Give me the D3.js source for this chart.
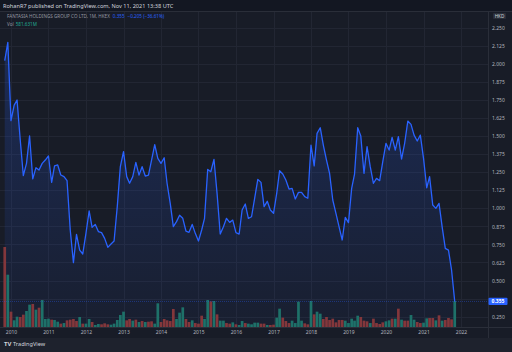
<!DOCTYPE html>
<html><head><meta charset="utf-8">
<script src="https://cdn.jsdelivr.net/npm/d3@7"></script>
<style>html,body{margin:0;padding:0;background:#131722;overflow:hidden}svg{display:block}</style>
</head><body>
<script>
// Monthly closes, Nov 2009 .. Nov 2021 (HKD)
const closes = [2.024,2.151,1.608,1.716,1.751,1.474,1.227,1.312,1.502,1.204,1.282,1.266,1.312,1.335,1.363,1.180,1.294,1.301,1.231,1.220,1.192,0.850,0.624,0.820,0.711,0.684,0.827,0.982,0.869,0.889,0.839,0.832,0.792,0.730,0.753,0.774,1.012,1.289,1.393,1.220,1.174,1.220,1.319,1.231,1.289,1.224,1.231,1.335,1.441,1.347,1.312,1.351,1.174,1.035,0.873,0.908,0.952,0.931,0.843,0.834,0.889,0.827,0.774,0.850,0.931,1.270,1.254,1.340,1.104,0.822,0.873,0.931,0.903,0.919,0.832,0.822,0.989,1.030,0.931,0.942,1.070,1.201,1.180,1.012,1.049,0.989,0.966,1.104,1.261,1.238,1.197,1.134,1.139,1.065,1.111,1.111,1.081,1.070,1.439,1.294,1.520,1.559,1.439,1.335,1.243,1.058,0.966,0.873,0.781,0.938,0.901,1.139,1.238,1.559,1.502,1.243,1.428,1.289,1.174,1.208,1.192,1.324,1.451,1.404,1.492,1.404,1.497,1.342,1.451,1.605,1.582,1.508,1.467,1.508,1.347,1.143,1.220,1.023,1.000,1.035,0.873,0.723,0.711,0.573,0.355];
// Monthly volume (millions of shares)
const volumes = [1790,1170,343,150,231,224,276,358,500,515,388,432,604,179,186,164,157,119,75,89,149,164,179,134,224,75,75,179,112,45,67,60,82,60,52,75,157,268,343,149,179,142,164,112,134,112,119,127,75,530,112,179,149,134,403,179,321,440,179,112,149,89,75,253,179,604,574,582,283,142,142,89,75,104,60,45,134,89,75,60,97,97,75,75,45,45,52,209,410,209,134,89,142,89,567,142,82,60,582,283,343,298,179,224,157,186,104,157,157,142,89,186,142,253,224,142,127,89,186,89,67,104,127,149,186,186,410,164,142,142,268,164,112,89,97,194,201,201,149,261,142,157,201,171,581.631];
// Volume bar direction: 1 = up (green), 0 = down (red)
const volUp = [0,1,0,1,1,0,0,1,1,0,1,0,1,1,1,0,1,1,0,1,0,0,0,0,1,0,1,1,0,1,1,0,0,0,1,1,1,1,1,0,0,1,0,1,0,1,0,0,1,1,0,0,0,0,0,1,1,1,0,0,1,0,0,0,1,1,0,1,0,1,1,0,0,1,0,1,1,0,1,1,1,1,0,0,1,0,0,1,1,0,0,0,1,1,1,1,0,0,1,0,1,1,0,0,0,0,0,0,0,1,1,1,1,1,0,0,0,1,0,0,0,0,1,1,0,1,0,1,0,0,1,1,0,0,1,1,0,0,1,0,1,0,0,0,1];
const priceTicks = [2.25,2.125,2.0,1.875,1.75,1.625,1.5,1.375,1.25,1.125,1.0,0.875,0.75,0.625,0.5,0.375,0.25];
const hiddenTick = 0.375; // covered by the last-price marker
const yearTicks = [2010,2011,2012,2013,2014,2015,2016,2017,2018,2019,2020,2021,2022];
const startMonth = [2009, 10]; // Nov 2009 (0-based month)
const titleText = "RohanR7 published on TradingView.com, Nov 11, 2021 13:38 UTC";
const symbolText = "FANTASIA HOLDINGS GROUP CO LTD, 1M, HKEX";
const lastText = "0.355";
const changeText = "\u22120.205 (\u221236.61%)";
const volLabel = "Vol";
const volValueText = "581.631M";
const currency = "HKD";

const W = 512, H = 352;
const plotL = 0, plotR = 488, plotT = 12, plotB = 327;
const FONT = "'Noto Sans', 'DejaVu Sans', sans-serif";

const data = closes.map((c, i) => ({
  date: new Date(Date.UTC(startMonth[0], startMonth[1] + i, 1)),
  close: c, vol: volumes[i], up: volUp[i]
}));

const x = d3.scaleUtc().domain([new Date(Date.UTC(2010,0,1)), new Date(Date.UTC(2022,0,1))]).range([11, 461]);
const y = d3.scaleLinear().domain([0.25, 2.25]).range([316.6, 28]);
const yv = d3.scaleLinear().domain([0, 2000]).range([plotB, plotB - 89.4]);

const svg = d3.select("body").append("svg").attr("width", W).attr("height", H)
  .style("font-family", FONT);

svg.append("rect").attr("width", W).attr("height", H).attr("fill", "#131722");
svg.append("rect").attr("x", plotL).attr("y", plotT).attr("width", plotR - plotL).attr("height", plotB - plotT).attr("fill", "#181c27");
svg.append("rect").attr("x", plotR).attr("y", plotT).attr("width", W - plotR).attr("height", plotB - plotT).attr("fill", "#181c27");
svg.append("rect").attr("x", 0).attr("y", plotB).attr("width", W).attr("height", 11).attr("fill", "#181c27");
svg.append("rect").attr("x", 0).attr("y", 338).attr("width", W).attr("height", 14).attr("fill", "#1e222d");

// grid
const grid = svg.append("g");
grid.selectAll("line.h").data(priceTicks).join("line")
  .attr("x1", plotL).attr("x2", plotR).attr("y1", d => Math.round(y(d)) + 0.5).attr("y2", d => Math.round(y(d)) + 0.5)
  .attr("stroke", "#222633").attr("stroke-width", 1);
grid.selectAll("line.v").data(yearTicks).join("line")
  .attr("x1", d => Math.round(x(new Date(Date.UTC(d,0,1)))) + 0.5).attr("x2", d => Math.round(x(new Date(Date.UTC(d,0,1)))) + 0.5)
  .attr("y1", plotT).attr("y2", plotB)
  .attr("stroke", "#222633").attr("stroke-width", 1);

// area gradient
const defs = svg.append("defs");
const grad = defs.append("linearGradient").attr("id", "ag").attr("x1", 0).attr("y1", 0).attr("x2", 0).attr("y2", 1);
grad.append("stop").attr("offset", "0%").attr("stop-color", "#2962ff").attr("stop-opacity", 0.22);
grad.append("stop").attr("offset", "100%").attr("stop-color", "#2962ff").attr("stop-opacity", 0.04);

const area = d3.area().x(d => x(d.date)).y0(plotB).y1(d => y(d.close));
svg.append("path").datum(data).attr("d", area).attr("fill", "url(#ag)");

// volume bars
svg.append("g").selectAll("rect").data(data).join("rect")
  .attr("x", d => x(d.date) - 1.35).attr("width", 2.7)
  .attr("y", d => yv(d.vol)).attr("height", d => plotB - yv(d.vol))
  .attr("fill", d => d.up ? "#1e7169" : "#83373b");

// price line
const line = d3.line().x(d => x(d.date)).y(d => y(d.close));
svg.append("path").datum(data).attr("d", line).attr("fill", "none")
  .attr("stroke", "#2962ff").attr("stroke-width", 1.3).attr("stroke-linejoin", "round");

// last price horizontal line
const lastY = y(closes[closes.length - 1]);
svg.append("line").attr("x1", plotL).attr("x2", plotR).attr("y1", lastY).attr("y2", lastY)
  .attr("stroke", "#2962ff").attr("stroke-opacity", 0.45).attr("stroke-width", 0.8).attr("stroke-dasharray", "1,1");

// panel borders
svg.append("line").attr("x1", plotR + 0.5).attr("x2", plotR + 0.5).attr("y1", plotT).attr("y2", 338).attr("stroke", "#2a2e39");
svg.append("line").attr("x1", 0).attr("x2", W).attr("y1", plotB + 0.5).attr("y2", plotB + 0.5).attr("stroke", "#2a2e39");
svg.append("line").attr("x1", 0).attr("x2", W).attr("y1", plotT - 0.5).attr("y2", plotT - 0.5).attr("stroke", "#2a2e39");

// right axis labels
const yAxis = d3.axisRight(y).tickValues(priceTicks.filter(t => t !== hiddenTick)).tickFormat(d3.format(".3f")).tickSize(0).tickPadding(0);
const ya = svg.append("g").attr("transform", `translate(${plotR + 4},0)`).call(yAxis);
ya.select(".domain").remove();
ya.selectAll("text").attr("fill", "#b2b5be").attr("font-size", 5).attr("font-family", FONT);

// HKD label
svg.append("rect").attr("x", 493).attr("y", 13).attr("width", 13).attr("height", 6).attr("rx", 1).attr("fill", "#2a2e39");
svg.append("text").attr("x", 499.5).attr("y", 17.8).attr("text-anchor", "middle").attr("fill", "#d1d4dc").attr("font-size", 4.6).text(currency);

// last price box
svg.append("rect").attr("x", plotR + 0.5).attr("y", lastY - 3.6).attr("width", 19).attr("height", 7.2).attr("rx", 1).attr("fill", "#2962ff");
svg.append("text").attr("x", plotR + 10).attr("y", lastY + 1.8).attr("text-anchor", "middle").attr("fill", "#ffffff").attr("font-size", 5).attr("font-weight", "bold").text(lastText);

// time axis labels
const xAxis = d3.axisBottom(x).tickValues(yearTicks.map(d => new Date(Date.UTC(d,0,1)))).tickFormat(d3.utcFormat("%Y")).tickSize(0).tickPadding(0);
const xa = svg.append("g").attr("transform", `translate(0,${plotB + 3})`).call(xAxis);
xa.select(".domain").remove();
xa.selectAll("text").attr("fill", "#b2b5be").attr("font-size", 5).attr("font-family", FONT);

// header
svg.append("text").attr("x", 3).attr("y", 7.5).attr("fill", "#d1d4dc").attr("font-size", 5.6).text(titleText);
const leg = svg.append("text").attr("x", 7).attr("y", 17.5).attr("font-size", 4.6);
leg.append("tspan").attr("fill", "#9598a1").text(symbolText);
leg.append("tspan").attr("fill", "#2962ff").attr("dx", 3).text(lastText);
leg.append("tspan").attr("fill", "#2962ff").attr("dx", 3).text(changeText);
const vleg = svg.append("text").attr("x", 7).attr("y", 25.5).attr("font-size", 4.6);
vleg.append("tspan").attr("fill", "#9598a1").text(volLabel);
vleg.append("tspan").attr("fill", "#22ab94").attr("dx", 2).text(volValueText);

// footer logo
const foot = svg.append("g").attr("transform", "translate(4,345.5)");
foot.append("text").attr("x", 0).attr("y", 0).attr("fill", "#d1d4dc").attr("font-size", 6).attr("font-weight", "bold").text("TV");
foot.append("text").attr("x", 9).attr("y", 0).attr("fill", "#d1d4dc").attr("font-size", 5.6).text("TradingView");
</script>
</body></html>
